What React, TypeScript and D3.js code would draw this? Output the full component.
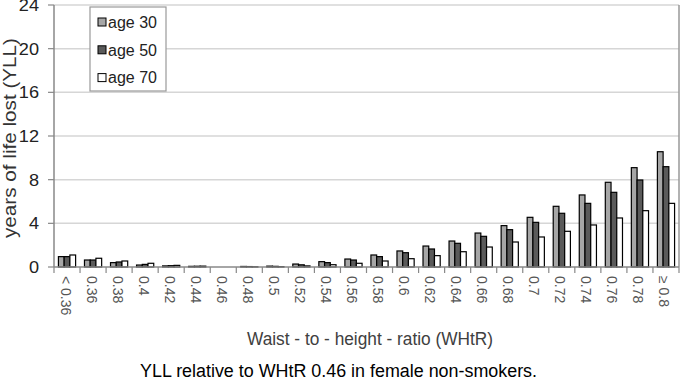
import React from "react";
import * as d3 from "d3";

const categories = ["< 0.36","0.36","0.38","0.4","0.42","0.44","0.46","0.48","0.5","0.52","0.54","0.56","0.58","0.6","0.62","0.64","0.66","0.68","0.7","0.72","0.74","0.76","0.78","≥ 0.8"];
const age30 = [0.95,0.64,0.4,0.18,0.1,0.06,0,0.05,0.08,0.27,0.49,0.73,1.1,1.47,1.92,2.38,3.11,3.79,4.55,5.56,6.6,7.76,9.1,10.56];
const age50 = [0.95,0.64,0.46,0.24,0.12,0.07,0,0.04,0.06,0.2,0.4,0.64,0.95,1.31,1.65,2.17,2.81,3.42,4.09,4.92,5.83,6.84,7.97,9.19];
const age70 = [1.1,0.8,0.55,0.34,0.15,0.08,0,0.02,0.03,0.1,0.21,0.34,0.55,0.76,1.04,1.4,1.83,2.29,2.75,3.27,3.85,4.49,5.16,5.83];
const seriesNames = ["age 30","age 50","age 70"];
const seriesColors = ["#a6a6a6","#5a5a5a","#ffffff"];
const yTicks = [0,4,8,12,16,20,24];

export default function App() {
  const W = 687, H = 383;
  const x0 = 54, x1 = 679, yTop = 5, yBot = 267;
  const x = d3.scaleBand<string>().domain(categories).range([x0, x1]).paddingInner(0.34).paddingOuter(0.17);
  const xt = d3.scaleBand<string>().domain(categories).range([x0, x1]);
  const sub = d3.scaleBand<number>().domain([0,1,2]).range([0, x.bandwidth()]);
  const y = d3.scaleLinear().domain([0,24]).range([yBot, yTop]);
  const data = [age30, age50, age70];
  const font = "Arial, 'Liberation Sans', sans-serif";
  return (
    <svg width={W} height={H} style={{position:"absolute",left:0,top:0,background:"#fff"}} fontFamily={font}>
      {yTicks.map(t => (
        <g key={t}>
          {t > 0 && <line x1={x0} x2={x1} y1={y(t)} y2={y(t)} stroke="#d6d6d6" strokeWidth={1.5} />}
          <line x1={x0-6} x2={x0} y1={y(t)} y2={y(t)} stroke="#888" strokeWidth={1.2} />
          <text x={39} y={y(t)} dy="0.36em" textAnchor="end" fontSize={16.5}
            textLength={String(t).length * 0.556 * 16.5 * 1.1} lengthAdjust="spacingAndGlyphs" fill="#222">{t}</text>
        </g>
      ))}
      <line x1={x1} x2={x1} y1={yTop} y2={yBot} stroke="#999" strokeWidth={1.5} />
      {data.map((vals, s) => vals.map((v, i) => (
        <rect key={s+"-"+i} x={(x(categories[i]) as number) + (sub(s) as number)} y={y(v)}
          width={sub.bandwidth()} height={yBot - y(v)} fill={seriesColors[s]} stroke="#000" strokeWidth={1.2} />
      )))}
      <line x1={x0} x2={x0} y1={yTop} y2={yBot} stroke="#888" strokeWidth={1.5} />
      <line x1={x0} x2={x1} y1={yBot} y2={yBot} stroke="#888" strokeWidth={1.5} />
      {categories.map((c, i) => (
        <line key={"tk"+i} x1={xt(c) as number} x2={xt(c) as number} y1={yBot} y2={yBot+6} stroke="#888" strokeWidth={1.2} />
      ))}
      <line x1={x1} x2={x1} y1={yBot} y2={yBot+6} stroke="#888" strokeWidth={1.2} />
      {categories.map((c) => {
        const cx = (xt(c) as number) + xt.bandwidth()/2;
        return (
          <text key={"lb"+c} transform={`translate(${cx-6.5},${276}) rotate(90)`} fontSize={14} fill="#555" textAnchor="start">{c}</text>
        );
      })}
      <text transform={`translate(16,${138}) rotate(-90)`} textAnchor="middle" fontSize={19} textLength={200} lengthAdjust="spacingAndGlyphs" fill="#333">years of life lost (YLL)</text>
      <text x={370} y={345} textAnchor="middle" fontSize={17.5} textLength={246} lengthAdjust="spacingAndGlyphs" fill="#404040">Waist - to - height - ratio (WHtR)</text>
      <text x={338.5} y={377} textAnchor="middle" fontSize={18} textLength={397} lengthAdjust="spacingAndGlyphs" fill="#000">YLL relative to WHtR 0.46 in female non-smokers.</text>
      <rect x={90} y={7} width={76} height={84} fill="#fff" stroke="#999" strokeWidth={1.2} />
      {seriesNames.map((n, i) => (
        <g key={n}>
          <rect x={98} y={18 + i*27.8} width={8} height={8} fill={seriesColors[i]} stroke="#000" strokeWidth={1} />
          <text x={108} y={22 + i*27.8} dy="0.36em" fontSize={16} fill="#222">{n}</text>
        </g>
      ))}
    </svg>
  );
}
